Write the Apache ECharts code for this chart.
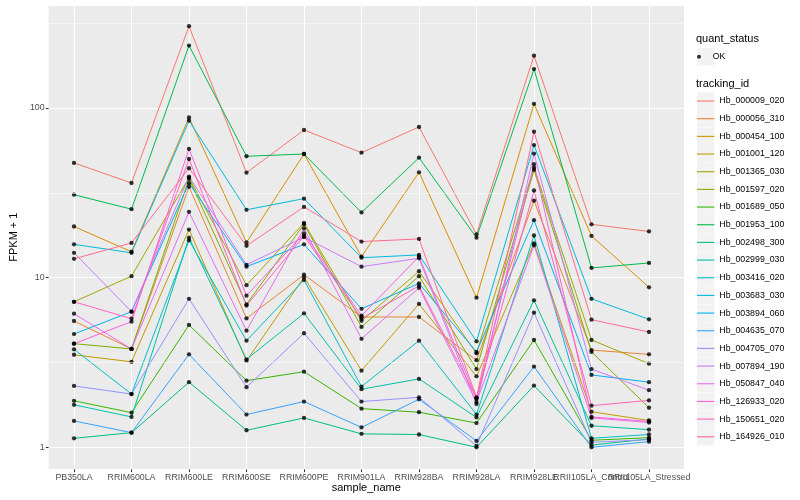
<!DOCTYPE html>
<html>
<head>
<meta charset="utf-8">
<script src="https://cdn.jsdelivr.net/npm/echarts@6/dist/echarts.min.js"></script>
<style>html,body{margin:0;padding:0;background:#fff}#chart{width:800px;height:500px}</style>
</head>
<body>
<div id="chart"></div>
<script>
// Categories (x axis)
const categories = ['PB350LA','RRIM600LA','RRIM600LE','RRIM600SE','RRIM600PE','RRIM901LA','RRIM928BA','RRIM928LA','RRIM928LE','RRII105LA_Control','RRII105LA_Stressed'];

// Series: FPKM + 1 per sample
const hb_000009_020 = [47.4, 36.1, 303, 41.5, 74.1, 54.5, 77.2, 18.0, 203, 20.6, 18.7];
const hb_000056_310 = [5.55, 3.8, 34.3, 5.75, 10.4, 5.86, 5.86, 3.26, 28.4, 3.74, 3.53];
const hb_000454_100 = [20.0, 14.2, 87.8, 16.1, 53.5, 13.3, 41.7, 7.62, 105.5, 17.6, 8.77];
const hb_001001_120 = [3.51, 3.19, 19.2, 3.23, 10.05, 2.83, 7.0, 2.62, 15.9, 1.62, 1.44];
const hb_001365_030 = [7.2, 10.2, 38.8, 9.02, 21.0, 5.56, 10.9, 3.58, 44.5, 4.29, 3.11];
const hb_001597_020 = [4.08, 3.8, 38.2, 6.95, 20.6, 5.12, 10.2, 2.89, 43.1, 3.65, 1.71];
const hb_001689_050 = [1.88, 1.60, 5.26, 2.47, 2.79, 1.69, 1.61, 1.39, 4.29, 1.10, 1.14];
const hb_001953_100 = [30.8, 25.3, 233, 51.9, 53.5, 24.2, 50.9, 17.2, 169.4, 11.4, 12.2];
const hb_002498_300 = [1.13, 1.22, 2.42, 1.26, 1.49, 1.20, 1.19, 1.0, 2.31, 1.03, 1.12];
const hb_002999_030 = [1.78, 1.51, 17.2, 3.30, 6.16, 2.2, 2.53, 1.5, 7.35, 1.34, 1.27];
const hb_003416_020 = [3.78, 2.06, 16.6, 4.25, 9.68, 2.28, 4.25, 1.56, 17.7, 1.13, 1.19];
const hb_003683_030 = [15.7, 14.0, 84.1, 25.1, 29.2, 13.1, 13.6, 4.21, 60.4, 7.5, 5.68];
const hb_003894_060 = [4.65, 6.3, 36, 11.6, 15.7, 6.55, 9.25, 3.65, 21.8, 2.67, 2.42];
const hb_004635_070 = [1.43, 1.22, 3.53, 1.56, 1.86, 1.31, 1.92, 1.09, 2.99, 1.0, 1.08];
const hb_004705_070 = [2.30, 2.06, 7.5, 2.26, 4.70, 1.86, 1.97, 1.02, 6.21, 1.07, 1.11];
const hb_007894_190 = [14.0, 6.3, 39.4, 11.9, 17.3, 11.6, 13.0, 1.8, 53.8, 2.89, 2.17];
const hb_050847_040 = [6.13, 3.8, 24.4, 4.87, 19.5, 4.36, 8.7, 1.85, 15.5, 1.49, 1.40];
const hb_126933_020 = [4.08, 5.5, 57.3, 7.83, 18.2, 5.97, 13.3, 1.93, 46.6, 1.51, 1.42];
const hb_150651_020 = [7.2, 5.73, 50, 6.84, 17.6, 5.73, 8.95, 1.95, 32.6, 1.76, 1.89];
const hb_164926_010 = [12.9, 16.0, 44.1, 15.4, 26.1, 16.3, 16.9, 1.97, 72.4, 5.65, 4.78];

const trackingIds = ['Hb_000009_020','Hb_000056_310','Hb_000454_100','Hb_001001_120','Hb_001365_030','Hb_001597_020','Hb_001689_050','Hb_001953_100','Hb_002498_300','Hb_002999_030','Hb_003416_020','Hb_003683_030','Hb_003894_060','Hb_004635_070','Hb_004705_070','Hb_007894_190','Hb_050847_040','Hb_126933_020','Hb_150651_020','Hb_164926_010'];
const seriesValues = [hb_000009_020, hb_000056_310, hb_000454_100, hb_001001_120, hb_001365_030, hb_001597_020, hb_001689_050, hb_001953_100, hb_002498_300, hb_002999_030, hb_003416_020, hb_003683_030, hb_003894_060, hb_004635_070, hb_004705_070, hb_007894_190, hb_050847_040, hb_126933_020, hb_150651_020, hb_164926_010];
const colors = ['#F8766D','#EA8331','#D89000','#C09B00','#A3A500','#7CAE00','#39B600','#00BB4E','#00BF7D','#00C1A3','#00BFC4','#00BAE0','#00B0F6','#35A2FF','#9590FF','#C77CFF','#E76BF3','#FA62DB','#FF62BC','#FF6C91'];

// Tick labels
const yTickLabels = [1, 10, 100];
const yMinorBreaks = [3.1623, 31.623, 316.23];
const quantStatus = ['OK'];

const FONT = 'Liberation Sans, Arial, Helvetica, sans-serif';

const chart = echarts.init(document.getElementById('chart'), null, {renderer: 'canvas'});

const lineSeries = trackingIds.map((id, i) => ({
  type: 'line',
  name: id,
  xAxisIndex: 1,
  yAxisIndex: 1,
  data: seriesValues[i],
  symbol: 'none',
  showSymbol: false,
  color: colors[i],
  lineStyle: {width: 1, color: colors[i]},
  itemStyle: {color: colors[i]},
  silent: true,
  z: 2
}));

const pointData = [];
seriesValues.forEach(arr => arr.forEach((v, j) => pointData.push([categories[j], v])));

const STEP = 17.67;
const keyBoxes = [];
keyBoxes.push({type: 'rect', shape: {x: 697, y: 48.1, width: 17.3, height: 17.3}, style: {fill: '#F2F2F2'}, silent: true});
trackingIds.forEach((id, i) => {
  keyBoxes.push({type: 'rect', shape: {x: 697, y: 92.4 + i * STEP, width: 17.3, height: 17.3}, style: {fill: '#F2F2F2'}, silent: true});
});

const option = {
  backgroundColor: '#FFFFFF',
  animation: false,
  textStyle: {fontFamily: FONT},
  title: [
    {text: 'quant_status', left: 696, top: 33, padding: 0, textStyle: {fontFamily: FONT, fontSize: 11, fontWeight: 'normal', color: '#000000'}},
    {text: 'tracking_id', left: 696, top: 78.5, padding: 0, textStyle: {fontFamily: FONT, fontSize: 11, fontWeight: 'normal', color: '#000000'}}
  ],
  graphic: keyBoxes,
  legend: [
    {data: quantStatus, left: 697, top: 48.2, orient: 'vertical', padding: 0, itemWidth: 17.3, itemHeight: 4, icon: 'circle',
     symbolKeepAspect: true, selectedMode: false,
     textStyle: {fontFamily: FONT, fontSize: 8.8, color: '#000000', lineHeight: 17}},
    {data: trackingIds, left: 697, top: 92.2, orient: 'vertical', padding: 0, itemWidth: 17.3, itemHeight: 1.1, itemGap: 0,
     icon: 'rect', selectedMode: false,
     textStyle: {fontFamily: FONT, fontSize: 8.8, color: '#000000', lineHeight: STEP}}
  ],
  grid: [
    {left: 40, top: 5, width: 644, height: 464.3, show: true, backgroundColor: '#EBEBEB', borderWidth: 0},
    {left: 74, top: 5, width: 575, height: 464.3, show: false}
  ],
  xAxis: [
    {gridIndex: 0, type: 'value', min: 0, max: 1, name: 'sample_name', nameLocation: 'middle', nameGap: 13,
     nameTextStyle: {fontFamily: FONT, fontSize: 11, color: '#000000'},
     axisLine: {show: false}, axisTick: {show: false}, axisLabel: {show: false}, splitLine: {show: false}},
    {gridIndex: 1, type: 'category', data: categories, boundaryGap: false,
     axisLine: {show: false},
     axisTick: {show: true, interval: 0, length: 2.75, lineStyle: {color: '#333333', width: 1.07}},
     axisLabel: {interval: 0, fontFamily: FONT, fontSize: 8.8, color: '#4D4D4D', margin: 4},
     splitLine: {show: true, interval: 0, lineStyle: {color: '#FFFFFF', width: 1.07}}}
  ],
  yAxis: [
    {gridIndex: 0, type: 'log', logBase: 10, min: 0.742, max: 404, name: 'FPKM + 1', nameLocation: 'middle', nameGap: 23,
     nameTextStyle: {fontFamily: FONT, fontSize: 11, color: '#000000'},
     axisLine: {show: false},
     axisTick: {show: true, length: 2.75, lineStyle: {color: '#333333', width: 1.07}},
     axisLabel: {fontFamily: FONT, fontSize: 8.8, color: '#4D4D4D', margin: 4, showMinLabel: false, showMaxLabel: false,
       formatter: function (v) {
         for (const t of yTickLabels) { if (Math.abs(v - t) < 1e-6 * t) return String(t); }
         return '';
       }},
     splitLine: {show: true, lineStyle: {color: '#FFFFFF', width: 1.07}}},
    {gridIndex: 1, type: 'log', logBase: 10, min: 0.742, max: 404, show: false}
  ],
  series: [
    // invisible carrier for the minor horizontal grid lines spanning the full panel
    {type: 'line', name: '_minor', xAxisIndex: 0, yAxisIndex: 0, data: [[0.5, yTickLabels[0]]], symbol: 'none',
     lineStyle: {opacity: 0, width: 0}, silent: true, z: 1,
     markLine: {silent: true, symbol: 'none', animation: false, label: {show: false},
       lineStyle: {color: '#FFFFFF', width: 0.53, type: 'solid', opacity: 1},
       data: yMinorBreaks.map(v => ({yAxis: v}))}}
  ].concat(lineSeries).concat([
    {type: 'scatter', name: 'OK', xAxisIndex: 1, yAxisIndex: 1, data: pointData, symbol: 'circle', symbolSize: 4.3,
     itemStyle: {color: '#000000'}, silent: true, z: 3}
  ])
};

chart.setOption(option);
</script>
</body>
</html>
